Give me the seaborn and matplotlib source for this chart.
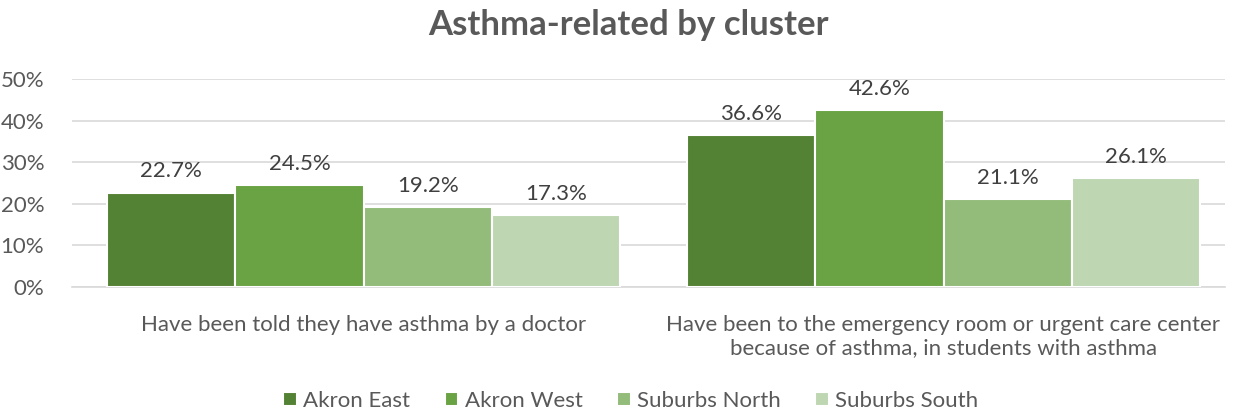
import matplotlib
matplotlib.use("Agg")
import matplotlib.pyplot as plt
import seaborn as sns
import pandas as pd

categories = ["Have been told they have asthma by a doctor",
              "Have been to the emergency room or urgent care center\nbecause of asthma, in students with asthma"]
clusters = ["Akron East", "Akron West", "Suburbs North", "Suburbs South"]
akron_east = [22.7, 36.6]
akron_west = [24.5, 42.6]
suburbs_north = [19.2, 21.1]
suburbs_south = [17.3, 26.1]
colors = ["#548235", "#6AA343", "#93BC7A", "#BED7B2"]

series = [akron_east, akron_west, suburbs_north, suburbs_south]
rows = []
for cl, vals in zip(clusters, series):
    for cat, v in zip(categories, vals):
        rows.append({"category": cat, "cluster": cl, "value": v})
df = pd.DataFrame(rows)

sns.set_theme(style="white")
plt.rcParams['font.family'] = ['Lato', 'DejaVu Sans']

fig = plt.figure(figsize=(12.33, 4.11), dpi=100)
ax = fig.add_axes([72/1233, 1 - 287/411, (1225-72)/1233, (287-79)/411])
sns.barplot(data=df, x="category", y="value", hue="cluster", hue_order=clusters,
            palette=colors, width=0.884, edgecolor="white", linewidth=1.5,
            saturation=1, ax=ax, legend=True, zorder=3)

ax.set_xlim((72-363.5)/580, (1225-363.5)/580)
ax.set_ylim(0, 50)
ax.set_yticks([0, 10, 20, 30, 40, 50])
ax.set_yticklabels([f"{t}%" for t in [0, 10, 20, 30, 40, 50]])
ax.yaxis.grid(True, color="#D9D9D9", linewidth=1.2, zorder=0)
ax.set_axisbelow(True)
for s in ["top", "right", "left"]:
    ax.spines[s].set_visible(False)
ax.spines["bottom"].set_color("#D9D9D9")
ax.spines["bottom"].set_linewidth(1.2)
ax.tick_params(axis="y", length=0, labelsize=16, labelcolor="#595959", pad=20)
ax.tick_params(axis="x", length=0, labelsize=16, labelcolor="#595959", pad=20)
ax.set_xlabel("")
ax.set_ylabel("")

for cont in ax.containers:
    ax.bar_label(cont, labels=[f"{v:.1f}%" for v in cont.datavalues],
                 padding=8, fontsize=16, color="#404040")

handles, labels = ax.get_legend_handles_labels()
ax.legend_.remove()
fig.legend(handles, labels, loc="center", bbox_to_anchor=(631/1233, 1 - 401/411),
           ncol=4, frameon=False, fontsize=16, labelcolor="#595959",
           handlelength=0.6, handleheight=0.6, columnspacing=1.55, handletextpad=0.3)

fig.suptitle("Asthma-related by cluster", x=628/1233, y=1 - 9/411, va="top",
             fontsize=25, fontweight="bold", color="#595959")

fig.savefig("out.png", dpi=100)
